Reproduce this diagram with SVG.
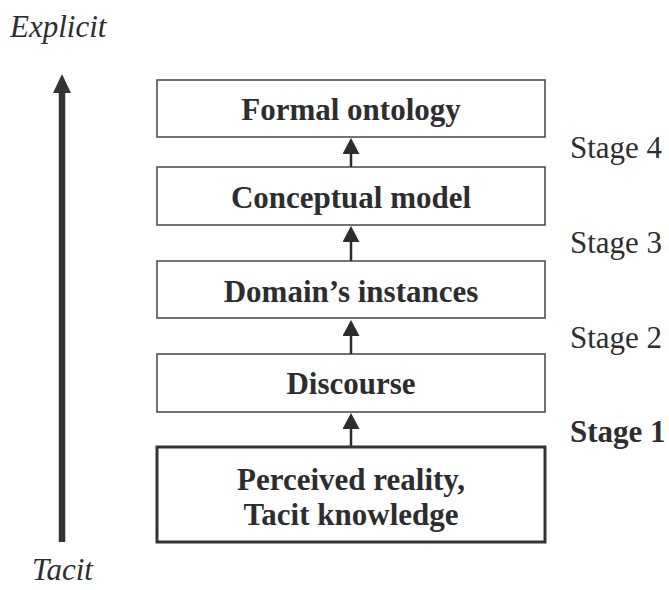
<svg xmlns="http://www.w3.org/2000/svg" width="669" height="590" viewBox="0 0 669 590">
<style>
.box{fill:#fff;stroke:#454548;stroke-width:1.5}
.thick{stroke:#333336;stroke-width:3}
.lbl{font-family:"Liberation Serif","Times New Roman",serif;font-weight:bold;font-size:31px;fill:#2d2d30;text-anchor:middle}
.stg{font-family:"Liberation Serif","Times New Roman",serif;font-size:31px;fill:#2d2d30}
.it{font-family:"Liberation Serif","Times New Roman",serif;font-style:italic;font-size:31px;fill:#2d2d30}
.con{stroke:#2d2d30;stroke-width:2.5;fill:none}
</style>
<defs>
<marker id="ah" viewBox="0 0 16 17" refX="0" refY="8.5" markerWidth="16" markerHeight="17" orient="auto" markerUnits="userSpaceOnUse">
<path d="M0,0 L16,8.5 L0,17 Z" fill="#2d2d30"/>
</marker>
</defs>
<text class="it" x="10" y="37">Explicit</text>
<text class="it" x="32" y="580">Tacit</text>
<g id="axis">
<line x1="62" y1="542" x2="62" y2="90" stroke="#333336" stroke-width="6.5"/>
<path d="M62,74 L53,93 L71,93 Z" fill="#333336"/>
</g>
<g id="n4"><rect class="box" x="157" y="80" width="388" height="57"/><text class="lbl" x="351" y="120">Formal ontology</text></g>
<g id="n3"><rect class="box" x="157" y="167" width="388" height="58"/><text class="lbl" x="351" y="208">Conceptual model</text></g>
<g id="n2"><rect class="box" x="157" y="261" width="388" height="57"/><text class="lbl" x="351" y="302">Domain’s instances</text></g>
<g id="n1"><rect class="box" x="157" y="354" width="388" height="58"/><text class="lbl" x="351" y="394">Discourse</text></g>
<g id="n0"><rect class="box thick" x="157" y="447" width="388" height="95"/><text class="lbl" x="351" y="490">Perceived reality,</text><text class="lbl" x="351" y="525">Tacit knowledge</text></g>
<g id="connectors">
<line class="con" x1="351" y1="167" x2="351" y2="154" marker-end="url(#ah)"/>
<line class="con" x1="351" y1="261" x2="351" y2="242" marker-end="url(#ah)"/>
<line class="con" x1="351" y1="354" x2="351" y2="336" marker-end="url(#ah)"/>
<line class="con" x1="351" y1="446" x2="351" y2="429" marker-end="url(#ah)"/>
</g>
<text class="stg" x="570" y="158">Stage 4</text>
<text class="stg" x="570" y="253">Stage 3</text>
<text class="stg" x="570" y="348">Stage 2</text>
<text class="stg" x="570" y="442" font-weight="bold" font-size="30">Stage 1</text>
</svg>
